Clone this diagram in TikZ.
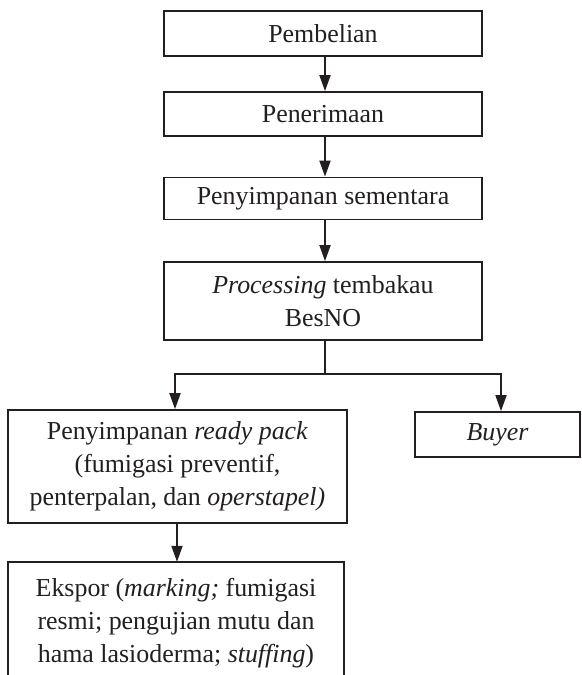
\documentclass[tikz,border=0pt]{standalone}
\usepackage{fontspec}
\setmainfont{Liberation Serif}
\usetikzlibrary{arrows.meta}
\definecolor{ink}{HTML}{231F20}
\tikzset{
 box/.style={draw=ink, line width=1.8bp, inner sep=0pt, align=center, font=\fontsize{26}{33}\selectfont, text=ink},
 opentext/.style={inner sep=0pt, align=center, font=\fontsize{26}{33}\selectfont, text=ink},
 arr/.style={draw=ink, line width=1.8bp, -{Triangle[length=16bp,width=11bp]}},
 ln/.style={draw=ink, line width=1.8bp},
}
\begin{document}
\begin{tikzpicture}[x=1bp,y=-1bp]
\useasboundingbox[fill=white] (0,0) rectangle (582,675);
\node[box, minimum width=318bp, minimum height=45bp] (b1) at (323,33.5) {Pembelian};
\node[box, minimum width=318bp, minimum height=44bp] (b2) at (323,114) {Penerimaan};
\node[box, minimum width=318bp, minimum height=42bp] (b3) at (323,198.5) {Penyimpanan sementara};
\node[box, minimum width=318bp, minimum height=78bp] (b4) at (323,301) {\textit{Processing} tembakau\\BesNO};
\node[box, minimum width=339bp, minimum height=113bp] (rp) at (177.5,466.5) {Penyimpanan \textit{ready pack}\\(fumigasi preventif,\\penterpalan, dan \textit{operstapel)}};
\node[box, minimum width=165bp, minimum height=45bp] (by) at (497.5,434.5) {\textit{Buyer}};
\node[opentext, minimum width=336bp, minimum height=122bp] (ek) at (176,623) {Ekspor (\textit{marking;} fumigasi\\resmi; pengujian mutu dan\\hama lasioderma; \textit{stuffing})};
\coordinate (bot) at (0,676);
\draw[ln] (ek.north west |- bot) -- (ek.north west) -- (ek.north east) -- (ek.north east |- bot);
\coordinate (cx) at (325,0);
\coordinate (j) at (325,374);
\coordinate (jl) at (175,374);
\coordinate (jr) at (501,374);
\draw[arr] (b1.south -| cx) -- (b2.north -| cx);
\draw[arr] (b2.south -| cx) -- (b3.north -| cx);
\draw[arr] (b3.south -| cx) -- (b4.north -| cx);
\draw[ln] (b4.south -| cx) -- (j);
\draw[arr] (j) -- (jl) -- (jl |- rp.north);
\draw[arr] (j) -- (jr) -- (jr |- by.north);
\draw[arr] (rp.south -| 177,0) -- (ek.north -| 177,0);
\end{tikzpicture}
\end{document}
